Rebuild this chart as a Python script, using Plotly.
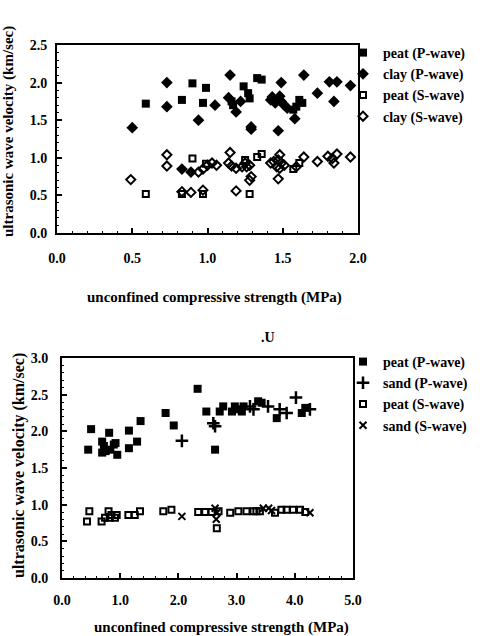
import plotly.graph_objects as go

# ---------------- data: top chart (peat & clay) ----------------
peat_p_top_x = [0.59, 0.83, 0.90, 0.97, 0.99, 1.16, 1.17, 1.24, 1.27, 1.28, 1.33, 1.36, 1.57, 1.59, 1.61, 1.63]
peat_p_top_y = [1.72, 1.77, 1.99, 1.73, 1.93, 1.75, 1.70, 1.95, 1.86, 1.79, 2.06, 2.04, 1.64, 1.68, 1.77, 1.73]

clay_p_top_x = [0.50, 0.73, 0.73, 0.83, 0.89, 0.94, 1.05, 1.14, 1.15, 1.19, 1.22, 1.29, 1.29, 1.42, 1.43,
                1.45, 1.47, 1.48, 1.49, 1.49, 1.51, 1.53, 1.58, 1.64, 1.73, 1.81, 1.84, 1.86, 1.95]
clay_p_top_y = [1.40, 2.00, 1.68, 0.85, 0.81, 1.50, 1.70, 1.80, 2.10, 1.61, 1.75, 1.41, 1.38, 1.77, 1.81,
                1.73, 1.36, 1.82, 1.75, 2.00, 1.70, 1.66, 1.52, 2.10, 1.86, 2.01, 1.75, 2.01, 1.96]

peat_s_top_x = [0.59, 0.83, 0.90, 0.97, 0.99, 1.25, 1.28, 1.33, 1.36, 1.57, 1.61]
peat_s_top_y = [0.52, 0.52, 0.99, 0.52, 0.92, 0.97, 0.52, 1.01, 1.05, 0.85, 0.93]

clay_s_top_x = [0.49, 0.73, 0.73, 0.83, 0.89, 0.94, 0.97, 0.97, 1.00, 1.03, 1.06, 1.15, 1.14, 1.16, 1.19,
                1.23, 1.25, 1.26, 1.28, 1.29, 1.28, 1.19, 1.42, 1.44, 1.47, 1.48, 1.49, 1.46, 1.51, 1.48,
                1.47, 1.59, 1.64, 1.73, 1.80, 1.84, 1.86, 1.83, 1.95]
clay_s_top_y = [0.71, 1.04, 0.89, 0.55, 0.54, 0.81, 0.57, 0.85, 0.90, 0.93, 0.90, 1.07, 0.93, 0.89, 0.86,
                0.88, 0.93, 0.88, 0.90, 0.75, 0.70, 0.56, 0.93, 0.95, 0.97, 1.04, 0.93, 0.88, 0.90, 0.86,
                0.72, 0.88, 1.01, 0.95, 1.02, 0.93, 1.05, 0.99, 1.01]

# ---------------- data: bottom chart (peat & sand) ----------------
peat_p_bot_x = [0.45, 0.50, 0.69, 0.72, 0.69, 0.75, 0.81, 0.83, 0.89, 0.95, 0.92, 1.15, 1.15, 1.29, 1.35, 1.78,
                1.92, 2.33, 2.48, 2.63, 2.71, 2.77, 2.92, 2.97, 3.03, 3.09, 3.12, 3.37, 3.43, 3.69, 4.12, 4.18]
peat_p_bot_y = [1.75, 2.03, 1.86, 1.80, 1.71, 1.73, 1.98, 1.75, 1.82, 1.68, 1.84, 2.01, 1.77, 1.86, 2.14, 2.25,
                2.08, 2.58, 2.27, 1.75, 2.27, 2.34, 2.27, 2.34, 2.30, 2.27, 2.34, 2.41, 2.39, 2.18, 2.25, 2.32]

sand_p_bot_x = [2.06, 2.60, 2.63, 3.23, 3.29, 3.54, 3.74, 3.86, 4.02, 4.26]
sand_p_bot_y = [1.87, 2.11, 2.07, 2.34, 2.30, 2.34, 2.30, 2.25, 2.46, 2.30]

peat_s_bot_x = [0.43, 0.47, 0.68, 0.74, 0.82, 0.91, 0.80, 0.85, 0.94, 1.14, 1.25, 1.34, 1.74, 1.88, 2.34, 2.46,
                2.57, 2.69, 2.66, 2.89, 3.03, 3.17, 3.29, 3.34, 3.40, 3.66, 3.77, 3.86, 3.97, 4.09, 4.18]
peat_s_bot_y = [0.77, 0.91, 0.77, 0.82, 0.82, 0.82, 0.91, 0.86, 0.86, 0.86, 0.86, 0.91, 0.91, 0.93, 0.90, 0.90,
                0.90, 0.91, 0.68, 0.89, 0.91, 0.91, 0.91, 0.91, 0.91, 0.89, 0.93, 0.93, 0.93, 0.93, 0.90]

sand_s_bot_x = [2.06, 2.63, 2.66, 2.65, 3.46, 3.55, 3.60, 4.26]
sand_s_bot_y = [0.84, 0.95, 0.89, 0.80, 0.95, 0.95, 0.92, 0.89]

top_x_ticks = [0.0, 0.5, 1.0, 1.5, 2.0]
top_y_ticks = [0.0, 0.5, 1.0, 1.5, 2.0, 2.5]
bot_x_ticks = [0.0, 1.0, 2.0, 3.0, 4.0, 5.0]
bot_y_ticks = [0.0, 0.5, 1.0, 1.5, 2.0, 2.5, 3.0]

x_title = "unconfined compressive strength (MPa)"
y_title = "ultrasonic wave velocity (km/sec)"

FONT = "Liberation Serif"
W, H = 480, 636

fig = go.Figure()

def add(x, y, name, symbol, size, lw, xa, ya, legend):
    fig.add_trace(go.Scatter(
        x=x, y=y, mode="markers", name=name, xaxis=xa, yaxis=ya, legend=legend,
        marker=dict(symbol=symbol, size=size, color="black",
                    line=dict(color="black", width=lw)),
    ))

add(peat_p_top_x, peat_p_top_y, "peat (P-wave)", "square", 8, 0, "x", "y", "legend")
add(clay_p_top_x, clay_p_top_y, "clay (P-wave)", "diamond", 9, 0, "x", "y", "legend")
add(peat_s_top_x, peat_s_top_y, "peat (S-wave)", "square-open", 6, 2, "x", "y", "legend")
add(clay_s_top_x, clay_s_top_y, "clay (S-wave)", "diamond-open", 7, 2, "x", "y", "legend")

add(peat_p_bot_x, peat_p_bot_y, "peat (P-wave)", "square", 8, 0, "x2", "y2", "legend2")
add(sand_p_bot_x, sand_p_bot_y, "sand (P-wave)", "cross-thin-open", 9, 2.5, "x2", "y2", "legend2")
add(peat_s_bot_x, peat_s_bot_y, "peat (S-wave)", "square-open", 6, 2, "x2", "y2", "legend2")
add(sand_s_bot_x, sand_s_bot_y, "sand (S-wave)", "x-thin-open", 7, 2, "x2", "y2", "legend2")

def px_x(p):
    return p / W

def px_y(p):
    return 1 - p / H

tick_font = dict(family=FONT, size=14, color="black", weight="bold")

def axis(domain, rng, tickvals, anchor, standoff, minor_dtick):
    return dict(
        domain=domain, range=rng, tickvals=tickvals, anchor=anchor,
        automargin=False, ticklabelstandoff=standoff,
        showline=True, linecolor="black", linewidth=2, mirror=True,
        ticks="inside", ticklen=5, tickwidth=1.5, tickcolor="black",
        showgrid=False, zeroline=False, tickformat=".1f", tickfont=tick_font,
        minor=dict(ticks="inside", ticklen=2, tickcolor="black", tickwidth=1,
                   dtick=minor_dtick, showgrid=False),
    )

legend_font = dict(family=FONT, size=14, color="black", weight="bold")

fig.update_layout(
    width=W, height=H,
    paper_bgcolor="white", plot_bgcolor="white",
    margin=dict(l=0, r=0, t=0, b=0, autoexpand=False),
    showlegend=True,
    font=dict(family=FONT, color="black"),
    xaxis=axis([px_x(57), px_x(358)], [0, 2], top_x_ticks, "y", 11, 0.1),
    yaxis=axis([px_y(233), px_y(45)], [0, 2.5], top_y_ticks, "x", 5, 0.1),
    xaxis2=axis([px_x(62), px_x(353)], [0, 5], bot_x_ticks, "y2", 8, 0.2),
    yaxis2=axis([px_y(578), px_y(358)], [0, 3], bot_y_ticks, "x2", 9, 0.1),
    legend=dict(x=px_x(343), y=px_y(37), xanchor="left", yanchor="top",
                bgcolor="rgba(0,0,0,0)", borderwidth=0, itemwidth=30, tracegroupgap=0,
                font=legend_font),
    legend2=dict(x=px_x(343), y=px_y(346), xanchor="left", yanchor="top",
                 bgcolor="rgba(0,0,0,0)", borderwidth=0, itemwidth=30, tracegroupgap=0,
                 font=legend_font),
)

def note(text, xp, yp, size, angle=0):
    fig.add_annotation(text=text, x=px_x(xp), y=px_y(yp), xref="paper", yref="paper",
                       xanchor="center", yanchor="middle", showarrow=False, textangle=angle,
                       font=dict(family=FONT, size=size, color="black", weight="bold"))

note(x_title, 214, 297, 15)
note(x_title, 221, 627, 15)
note(y_title, 9, 132, 15, -90)
note(y_title, 19, 466, 16, -90)
note(".U", 268, 337, 14)

fig.write_html("out.html", config={"displayModeBar": False},
               post_script="document.body.style.margin='0px';")
